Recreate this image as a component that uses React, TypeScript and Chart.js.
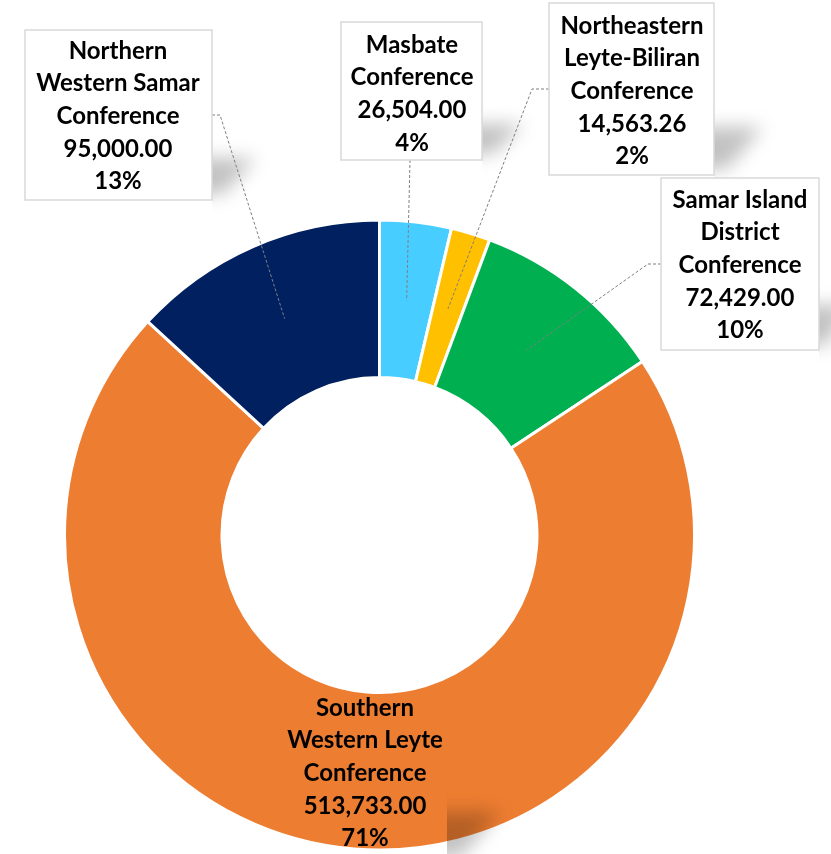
import React, { useEffect, useRef } from "react";
import { Chart, registerables } from "chart.js";

Chart.register(...registerables);

const categories = [
  "Masbate Conference",
  "Northeastern Leyte-Biliran Conference",
  "Samar Island District Conference",
  "Southern Western Leyte Conference",
  "Northern Western Samar Conference",
];
const labelLines = [
  ["Masbate", "Conference"],
  ["Northeastern", "Leyte-Biliran", "Conference"],
  ["Samar Island", "District", "Conference"],
  ["Southern", "Western Leyte", "Conference"],
  ["Northern", "Western Samar", "Conference"],
];
const values = [26504.0, 14563.26, 72429.0, 513733.0, 95000.0];
const colors = ["#47CDFF", "#FFC000", "#00B050", "#ED7D31", "#002060"];

// label layout (positions only)
type Box = { x0: number; y0: number; x1: number; y1: number } | null;
const labelBoxes: Box[] = [
  { x0: 341, y0: 22, x1: 482, y1: 160 },
  { x0: 549, y0: 3, x1: 714, y1: 175 },
  { x0: 661, y0: 178, x1: 819, y1: 350 },
  null,
  { x0: 25, y0: 30, x1: 212, y1: 200 },
];
const labelTextPos = [
  { cx: 412, y: 45 },
  { cx: 632, y: 26 },
  { cx: 740, y: 200 },
  { cx: 365, y: 708 },
  { cx: 118, y: 51 },
];
const leaderStarts: (number[][] | null)[] = [
  [[410, 160]],
  [[549, 89], [532, 89]],
  [[661, 264], [648, 264]],
  null,
  [[212, 115], [220, 115]],
];
const shadows = [
  { x: 482, y: 124, w: 55, h: 30 },
  { x: 714, y: 127, w: 65, h: 42 },
  { x: 819, y: 305, w: 40, h: 40 },
  { x: 447, y: 812, w: 70, h: 45 },
  { x: 212, y: 158, w: 58, h: 36 },
];

const FONT = "bold 24px Lato, 'Open Sans', sans-serif";
const LINE_H = 32.6;

const labelPlugin = {
  id: "boxLabels",
  afterDatasetsDraw(chart: any) {
    const ctx = chart.ctx as CanvasRenderingContext2D;
    const meta = chart.getDatasetMeta(0);
    const data = chart.data.datasets[0].data as number[];
    const total = data.reduce((a, b) => a + b, 0);

    // soft shadows
    shadows.forEach((s) => {
      ctx.save();
      ctx.beginPath();
      ctx.rect(s.x, s.y - 20, s.w + 40, s.h + 40);
      ctx.clip();
      ctx.filter = "blur(9px)";
      ctx.fillStyle = "rgba(0,0,0,0.24)";
      ctx.beginPath();
      ctx.moveTo(s.x - 30, s.y);
      ctx.lineTo(s.x + s.w * 0.75, s.y);
      ctx.lineTo(s.x + s.w * 0.2, s.y + s.h);
      ctx.lineTo(s.x - 30, s.y + s.h);
      ctx.closePath();
      ctx.fill();
      ctx.restore();
    });

    // leader lines
    meta.data.forEach((arc: any, i: number) => {
      const st = leaderStarts[i];
      if (!st) return;
      const c = arc.getCenterPoint();
      ctx.save();
      ctx.strokeStyle = "#7F7F7F";
      ctx.lineWidth = 1;
      ctx.setLineDash([3, 2]);
      ctx.beginPath();
      ctx.moveTo(st[0][0], st[0][1]);
      for (let k = 1; k < st.length; k++) ctx.lineTo(st[k][0], st[k][1]);
      ctx.lineTo(c.x, c.y);
      ctx.stroke();
      ctx.restore();
    });

    // boxes and text
    data.forEach((v, i) => {
      const b = labelBoxes[i];
      ctx.save();
      if (b) {
        ctx.fillStyle = "#FFFFFF";
        ctx.fillRect(b.x0, b.y0, b.x1 - b.x0, b.y1 - b.y0);
        ctx.strokeStyle = "#D9D9D9";
        ctx.lineWidth = 1.5;
        ctx.strokeRect(b.x0, b.y0, b.x1 - b.x0, b.y1 - b.y0);
      }
      const lines = [
        ...labelLines[i],
        v.toLocaleString("en-US", { minimumFractionDigits: 2, maximumFractionDigits: 2 }),
        Math.round((v / total) * 100) + "%",
      ];
      ctx.fillStyle = "#000000";
      ctx.font = FONT;
      ctx.textAlign = "center";
      ctx.textBaseline = "middle";
      const p = labelTextPos[i];
      lines.forEach((t, k) => ctx.fillText(t, p.cx, p.y + k * LINE_H));
      ctx.restore();
    });
  },
};

export default function App() {
  const ref = useRef<HTMLCanvasElement>(null);
  useEffect(() => {
    if (!ref.current) return;
    const bw = 3;
    const chart = new Chart(ref.current, {
      type: "doughnut",
      data: {
        labels: categories,
        datasets: [
          {
            data: values,
            backgroundColor: colors,
            borderColor: "#FFFFFF",
            borderWidth: bw,
            hoverOffset: 0,
          },
        ],
      },
      options: {
        responsive: false,
        animation: false,
        cutout: "50%",
        layout: {
          padding: { left: 64.5 - bw / 2, right: 136.5 - bw / 2, top: 220 - bw / 2, bottom: 4 - bw / 2 },
        },
        plugins: {
          legend: { display: false },
          tooltip: { enabled: false },
        },
      },
      plugins: [labelPlugin],
    });
    return () => chart.destroy();
  }, []);
  return (
    <div style={{ position: "fixed", left: 0, top: 0, width: 831, height: 854, background: "#FFFFFF" }}>
      <canvas ref={ref} width={831} height={854} style={{ display: "block", width: 831, height: 854 }} />
    </div>
  );
}
